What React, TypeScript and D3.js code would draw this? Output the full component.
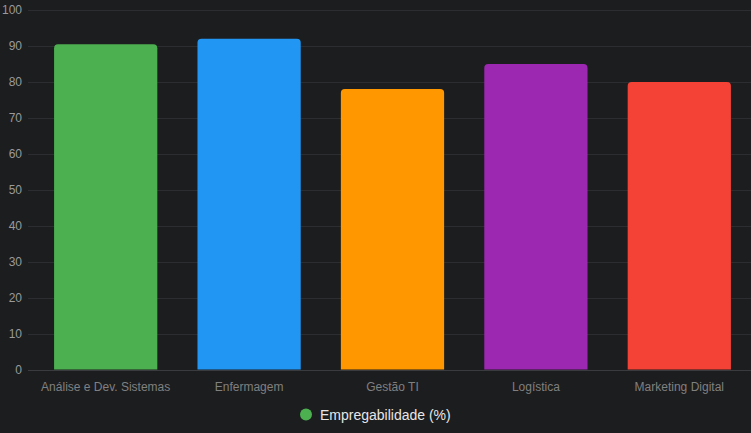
import React, { useEffect, useRef } from "react";
import * as d3 from "d3";

const cursos = ["Análise e Dev. Sistemas", "Enfermagem", "Gestão TI", "Logística", "Marketing Digital"];
const empregabilidade = [90.5, 92, 78, 85, 80];
const cores = ["#4caf50", "#2196f3", "#ff9800", "#9c27b0", "#f44336"];
const yTicks = [0, 10, 20, 30, 40, 50, 60, 70, 80, 90, 100];
const legendLabel = "Empregabilidade (%)";

export default function App() {
  const ref = useRef<SVGSVGElement>(null);

  useEffect(() => {
    const width = 751;
    const height = 433;
    const svg = d3.select(ref.current);
    svg.selectAll("*").remove();

    svg.append("rect").attr("width", width).attr("height", height).attr("fill", "#1c1d1f");

    const x = d3.scaleBand().domain(cursos).range([34, 751]).paddingInner(0.28).paddingOuter(0.14);
    const y = d3.scaleLinear().domain([0, 100]).range([369.5, 10]);

    // gridlines
    svg
      .append("g")
      .selectAll("line")
      .data(yTicks)
      .enter()
      .append("line")
      .attr("x1", 28)
      .attr("x2", width)
      .attr("y1", (d) => Math.round(y(d)) + 0.5)
      .attr("y2", (d) => Math.round(y(d)) + 0.5)
      .attr("stroke", (d) => (d === 0 ? "#3a3b3e" : "#2c2d30"))
      .attr("stroke-width", 1);

    svg
      .append("g")
      .selectAll("text")
      .data(yTicks)
      .enter()
      .append("text")
      .attr("x", 22)
      .attr("y", (d) => y(d))
      .attr("dy", "0.35em")
      .attr("text-anchor", "end")
      .attr("fill", "#9a9a9a")
      .style("font", "12px 'Liberation Sans', Arial, sans-serif")
      .text((d) => d);

    // bars with rounded top corners
    const r = 4;
    svg
      .append("g")
      .selectAll("path")
      .data(empregabilidade)
      .enter()
      .append("path")
      .attr("d", (d, i) => {
        const x0 = x(cursos[i])!;
        const w = x.bandwidth();
        const top = y(d);
        const bottom = y(0);
        return `M${x0},${bottom}V${top + r}Q${x0},${top} ${x0 + r},${top}H${x0 + w - r}Q${x0 + w},${top} ${x0 + w},${top + r}V${bottom}Z`;
      })
      .attr("fill", (d, i) => cores[i]);

    svg
      .append("g")
      .selectAll("text")
      .data(cursos)
      .enter()
      .append("text")
      .attr("x", (d) => x(d)! + x.bandwidth() / 2)
      .attr("y", 391)
      .attr("text-anchor", "middle")
      .attr("fill", "#808080")
      .style("font", "12px 'Liberation Sans', Arial, sans-serif")
      .text((d) => d);

    // legend
    const legend = svg.append("g");
    legend.append("circle").attr("cx", 306).attr("cy", 414.5).attr("r", 6).attr("fill", cores[0]);
    legend
      .append("text")
      .attr("x", 320)
      .attr("y", 419.5)
      .attr("fill", "#e6e6e6")
      .style("font", "14px 'Liberation Sans', Arial, sans-serif")
      .text(legendLabel);
  }, []);

  return (
    <div style={{ position: "fixed", left: 0, top: 0, width: 751, height: 433, background: "#1c1d1f" }}>
      <svg ref={ref} width={751} height={433} style={{ display: "block" }} />
    </div>
  );
}
